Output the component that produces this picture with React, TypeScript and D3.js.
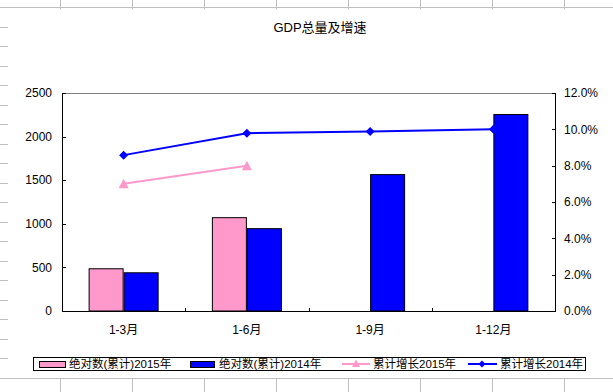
import React from "react";
import * as d3 from "d3";

const categories = ["1-3月", "1-6月", "1-9月", "1-12月"];
const abs2015: (number | null)[] = [490, 1076, null, null];
const abs2014: number[] = [444, 950, 1570, 2259];
const growth2015: (number | null)[] = [0.07, 0.08, null, null];
const growth2014: number[] = [0.0858, 0.0979, 0.0988, 0.1001];
const leftTicks = [0, 500, 1000, 1500, 2000, 2500];
const rightTicks = [0, 0.02, 0.04, 0.06, 0.08, 0.1, 0.12];
const title = "GDP总量及增速";
const legendLabels = ["绝对数(累计)2015年", "绝对数(累计)2014年", "累计增长2015年", "累计增长2014年"];

const W = 613;
const H = 392;
const PINK = "#FF99CC";
const BLUE = "#0000FF";
const FONT = "'Liberation Sans', Arial, 'Noto Sans CJK SC', sans-serif";
const GRID = "#c0c0c0";

export default function App() {
  const plot = { left: 62, right: 555, top: 93, bottom: 311 };
  const x = d3.scaleBand<string>().domain(categories).range([plot.left, plot.right]).padding(0);
  const groupW = x.bandwidth() * 0.568;
  const x1 = d3.scaleBand<string>().domain(["2015", "2014"]).range([0, groupW]).padding(0);
  const yL = d3.scaleLinear().domain([0, 2500]).range([plot.bottom, plot.top]);
  const yR = d3.scaleLinear().domain([0, 0.12]).range([plot.bottom, plot.top]);
  const fmtPct = d3.format(".1%");
  const cx = (c: string) => (x(c) as number) + x.bandwidth() / 2;

  const line = d3
    .line<[string, number | null]>()
    .defined((d) => d[1] != null)
    .x((d) => cx(d[0]))
    .y((d) => yR(d[1] as number));

  const pts2015 = categories.map((c, i) => [c, growth2015[i]] as [string, number | null]);
  const pts2014 = categories.map((c, i) => [c, growth2014[i]] as [string, number | null]);

  const diamond = (px: number, py: number, r = 4.5) =>
    `M${px},${py - r}L${px + r},${py}L${px},${py + r}L${px - r},${py}Z`;
  const triangle = (px: number, py: number, r = 5) =>
    `M${px},${py - r}L${px + r},${py + r * 0.9}L${px - r},${py + r * 0.9}Z`;

  const rows = d3.range(0, 20).map((k) => Math.round(7 + k * 19.5) + 0.5);
  const cols = d3.range(0, 9).map((k) => 60 + k * 72 + 0.5);

  const legendY = 364;
  const bandEdges = categories.map((c) => x(c) as number).concat([plot.right]);

  return (
    <svg width={W} height={H} style={{ position: "absolute", left: 0, top: 0, background: "#fff" }} fontFamily={FONT}>
      {rows.map((ry, i) => (
        <line key={"r" + i} x1={0} x2={W} y1={ry} y2={ry} stroke={GRID} strokeWidth={1} />
      ))}
      {cols.map((cxv, i) => (
        <line key={"c" + i} x1={cxv} x2={cxv} y1={0} y2={H} stroke={GRID} strokeWidth={1} />
      ))}
      <rect x={8} y={9.5} width={W - 8} height={368.5} fill="#fff" />

      <text x={320} y={32} textAnchor="middle" fontSize={13} fill="#000">
        {title}
      </text>

      {categories.map((c, i) => {
        const g = cx(c) - groupW / 2;
        const items: JSX.Element[] = [];
        const v15 = abs2015[i];
        if (v15 != null) {
          items.push(
            <rect key={"p" + i} x={g + (x1("2015") as number) + 0.5} y={yL(v15) + 0.5} width={x1.bandwidth() - 1}
              height={yL(0) - yL(v15) - 0.5} fill={PINK} stroke="#000" strokeWidth={1} />
          );
        }
        const v14 = abs2014[i];
        items.push(
          <rect key={"b" + i} x={g + (x1("2014") as number) + 0.5} y={yL(v14) + 0.5} width={x1.bandwidth() - 1}
            height={yL(0) - yL(v14) - 0.5} fill={BLUE} stroke="#000" strokeWidth={1} />
        );
        return <g key={c}>{items}</g>;
      })}

      <line x1={plot.left} x2={plot.right} y1={plot.top + 0.5} y2={plot.top + 0.5} stroke="#808080" />
      <line x1={plot.left + 0.5} x2={plot.left + 0.5} y1={plot.top} y2={plot.bottom + 0.5} stroke="#000" />
      <line x1={plot.right + 0.5} x2={plot.right + 0.5} y1={plot.top} y2={plot.bottom + 0.5} stroke="#000" />
      <line x1={plot.left} x2={plot.right + 1} y1={plot.bottom + 0.5} y2={plot.bottom + 0.5} stroke="#000" />

      {leftTicks.map((t) => (
        <g key={"l" + t}>
          <line x1={plot.left} x2={plot.left + 4} y1={Math.round(yL(t)) + 0.5} y2={Math.round(yL(t)) + 0.5} stroke="#000" />
          <text x={52} y={yL(t)} dy="0.35em" textAnchor="end" fontSize={12} fill="#000">
            {t}
          </text>
        </g>
      ))}
      {rightTicks.map((t) => (
        <g key={"rt" + t}>
          <line x1={plot.right - 3} x2={plot.right + 1} y1={Math.round(yR(t)) + 0.5} y2={Math.round(yR(t)) + 0.5} stroke="#000" />
          <text x={564} y={yR(t)} dy="0.35em" textAnchor="start" fontSize={12} fill="#000">
            {fmtPct(t)}
          </text>
        </g>
      ))}
      {bandEdges.map((e, i) => (
        <line key={"ct" + i} x1={Math.round(e) + 0.5} x2={Math.round(e) + 0.5} y1={plot.bottom - 3} y2={plot.bottom + 1} stroke="#000" />
      ))}
      {categories.map((c) => (
        <text key={"cl" + c} x={cx(c)} y={334} textAnchor="middle" fontSize={12} fill="#000">
          {c}
        </text>
      ))}

      <path d={line(pts2015) || ""} fill="none" stroke={PINK} strokeWidth={2} />
      {pts2015.filter((d) => d[1] != null).map((d) => (
        <path key={"tm" + d[0]} d={triangle(cx(d[0]), yR(d[1] as number))} fill={PINK} />
      ))}
      <path d={line(pts2014) || ""} fill="none" stroke={BLUE} strokeWidth={2} />
      {pts2014.map((d) => (
        <path key={"dm" + d[0]} d={diamond(cx(d[0]), yR(d[1] as number))} fill={BLUE} />
      ))}

      <rect x={33.5} y={357.5} width={552} height={13} fill="#fff" stroke="#000" strokeWidth={1} />
      <rect x={39.5} y={361.5} width={26} height={6} fill={PINK} stroke="#000" />
      <text x={69} y={legendY} dy="0.35em" fontSize={11.5} fill="#000">{legendLabels[0]}</text>
      <rect x={190.5} y={361.5} width={24} height={6} fill={BLUE} stroke="#000" />
      <text x={219} y={legendY} dy="0.35em" fontSize={11.5} fill="#000">{legendLabels[1]}</text>
      <line x1={342} x2={370} y1={legendY} y2={legendY} stroke={PINK} strokeWidth={2} />
      <path d={triangle(356, legendY - 0.5, 4)} fill={PINK} />
      <text x={373} y={legendY} dy="0.35em" fontSize={11.5} fill="#000">{legendLabels[2]}</text>
      <line x1={468} x2={497} y1={legendY} y2={legendY} stroke={BLUE} strokeWidth={2} />
      <path d={diamond(482, legendY, 3.5)} fill={BLUE} />
      <text x={500} y={legendY} dy="0.35em" fontSize={11.5} fill="#000">{legendLabels[3]}</text>
    </svg>
  );
}
